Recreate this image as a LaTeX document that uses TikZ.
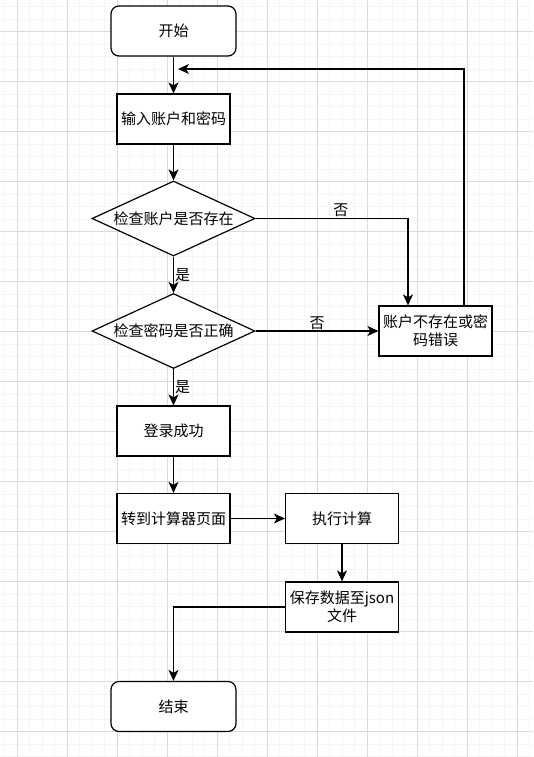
\documentclass[tikz,border=0pt]{standalone}
\usepackage{fontspec}
\setmainfont{Noto Sans CJK SC}
\usetikzlibrary{shapes.geometric,arrows.meta}
\begin{document}
\begin{tikzpicture}[x=1pt,y=-1pt,line width=1.2pt,
  box/.style={draw,fill=white,minimum width=113pt,minimum height=50pt,inner sep=2pt,align=center,font=\fontsize{15}{18}\selectfont},
  term/.style={box,rounded corners=8pt,minimum width=125pt},
  cond/.style={draw,fill=white,diamond,aspect=2.17,inner sep=0pt,minimum width=163pt,minimum height=75pt,font=\fontsize{15}{18}\selectfont},
  flow/.style={-{Stealth[length=11pt,width=10pt,inset=3pt]}},
  lbl/.style={font=\fontsize{15}{18}\selectfont,inner sep=1pt}]
\useasboundingbox (0,0) rectangle (533,757);
\fill[white] (0,0) rectangle (533,757);
\foreach \i in {0,...,42} \draw[gray!8,line width=0.7pt] ({4.5+12.5*\i},0) -- ++(0,757);
\foreach \i in {0,...,60} \draw[gray!8,line width=0.7pt] (0,{6.5+12.5*\i}) -- ++(533,0);
\foreach \i in {0,...,10} \draw[gray!28,line width=0.7pt] ({17+50*\i},0) -- ++(0,757);
\foreach \i in {0,...,14} \draw[gray!28,line width=0.7pt] (0,{31.5+50*\i}) -- ++(533,0);
\node[term] (start) at (173.5,31) {开始};
\node[box] (input) at (173.5,119) {输入账户和密码};
\node[cond] (chkacc) at (173.5,218.5) {检查账户是否存在};
\node[cond] (chkpwd) at (173.5,331) {检查密码是否正确};
\node[box] (err) at (435.5,331) {账户不存在或密\\码错误};
\node[box] (login) at (173.5,431) {登录成功};
\node[box] (jump) at (173.5,518.5) {转到计算器页面};
\node[box] (exec) at (342,518.5) {执行计算};
\node[box] (save) at (342,607) {保存数据至json\\文件};
\node[term] (end) at (173.5,706.5) {结束};
\coordinate (back) at (178,69);
\draw[flow] (start) -- (input);
\draw[flow] (input) -- (chkacc);
\draw[flow] (chkacc.east) -| ([xshift=-27.5pt]err.north) node[lbl,above,pos=0.28]{否};
\draw[flow] (chkacc) -- (chkpwd) node[lbl,right,midway]{是};
\draw[flow] (chkpwd) -- (err) node[lbl,above,midway]{否};
\draw[flow] (chkpwd) -- (login) node[lbl,right,midway]{是};
\draw[flow] (login) -- (jump);
\draw[flow] (jump) -- (exec);
\draw[flow] (exec) -- (save);
\draw[flow] (save.west) -| (end.north);
\draw[flow] ([xshift=28.5pt]err.north) |- (back);
\end{tikzpicture}
\end{document}
